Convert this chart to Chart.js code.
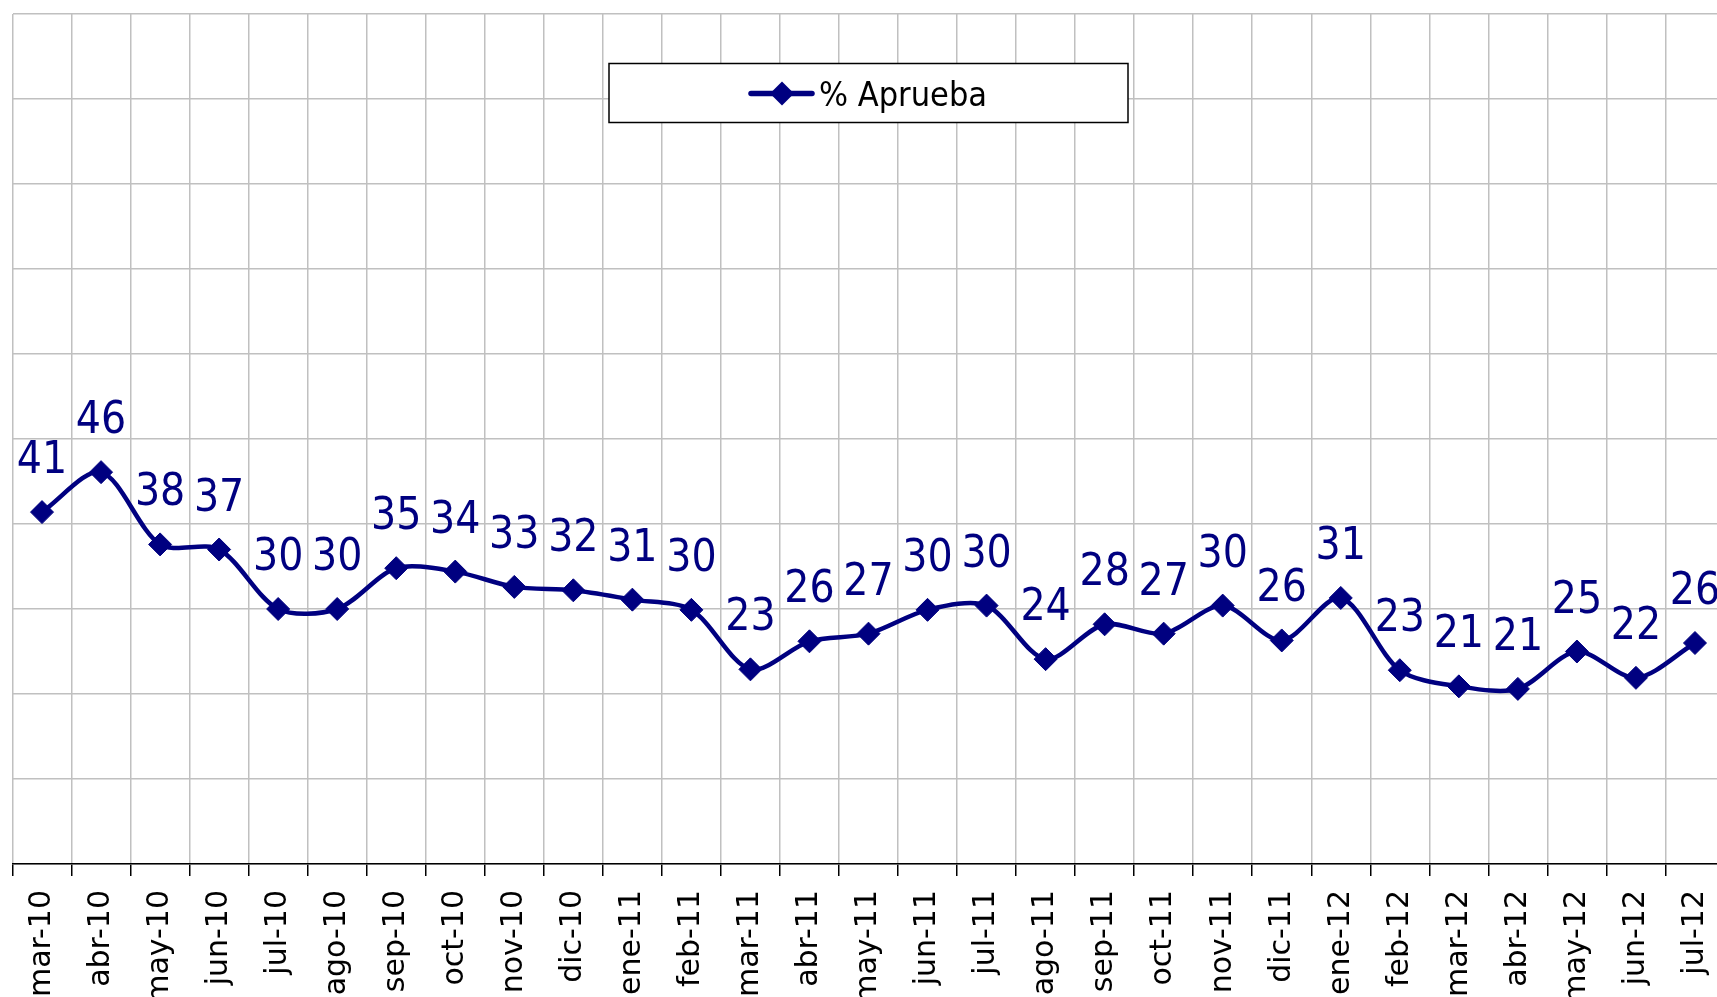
<!DOCTYPE html>
<html>
<head>
<meta charset="utf-8">
<script src="https://cdn.jsdelivr.net/npm/chart.js@4.4.1/dist/chart.umd.min.js"></script>
<style>
  html, body { margin:0; padding:0; background:#fff; overflow:hidden; }
  #wrap { position:relative; width:1717px; height:997px; overflow:hidden; }
  canvas { display:block; }
</style>
</head>
<body>
<div id="wrap"><canvas id="approvalChart" width="1737" height="997"></canvas></div>
<script>
const monthLabels = [
  "mar-10","abr-10","may-10","jun-10","jul-10","ago-10","sep-10","oct-10","nov-10","dic-10",
  "ene-11","feb-11","mar-11","abr-11","may-11","jun-11","jul-11","ago-11","sep-11","oct-11",
  "nov-11","dic-11","ene-12","feb-12","mar-12","abr-12","may-12","jun-12","jul-12"
];

const approvalValues = [
  41.4, 46.1, 37.6, 37.0, 30.0, 30.0, 34.8, 34.4, 32.6, 32.2,
  31.1, 29.9, 22.9, 26.2, 27.1, 29.9, 30.4, 24.1, 28.2, 27.1,
  30.4, 26.3, 31.3, 22.8, 20.9, 20.6, 25.0, 21.9, 26.0
];

const yTicks = { min:0, max:100, step:10 };

const NAVY = "#000080";
const FONT = '"DejaVu Sans Condensed", "DejaVu Sans", sans-serif';

// value labels above each point
const valueLabels = {
  id:"valueLabels",
  afterDatasetsDraw(chart){
    const ctx = chart.ctx;
    const meta = chart.getDatasetMeta(0);
    const data = chart.data.datasets[0].data;
    ctx.save();
    ctx.font = "44px " + FONT;
    ctx.fillStyle = NAVY;
    ctx.textAlign = "center";
    ctx.textBaseline = "alphabetic";
    meta.data.forEach((pt,i) => {
      ctx.fillText(String(Math.round(data[i])), pt.x, pt.y - 39);
    });
    ctx.restore();
  }
};

// boxed legend sitting inside the plot
const boxedLegend = {
  id:"boxedLegend",
  afterDraw(chart){
    const ctx = chart.ctx;
    const ds = chart.data.datasets[0];
    const box = { x:609, y:63.5, w:519, h:59 };
    ctx.save();
    ctx.fillStyle = "#fff";
    ctx.fillRect(box.x, box.y, box.w, box.h);
    ctx.lineWidth = 1.5;
    ctx.strokeStyle = "#000";
    ctx.strokeRect(box.x, box.y, box.w, box.h);

    const cy = 93.5;
    ctx.strokeStyle = ds.borderColor;
    ctx.lineWidth = 5.5;
    ctx.lineCap = "round";
    ctx.beginPath();
    ctx.moveTo(751, cy);
    ctx.lineTo(812, cy);
    ctx.stroke();
    ctx.fillStyle = ds.pointBackgroundColor;
    ctx.beginPath();
    ctx.moveTo(782, cy - 12);
    ctx.lineTo(794, cy);
    ctx.lineTo(782, cy + 12);
    ctx.lineTo(770, cy);
    ctx.closePath();
    ctx.fill();

    ctx.fillStyle = "#000";
    ctx.font = "34px " + FONT;
    ctx.textAlign = "left";
    ctx.textBaseline = "alphabetic";
    ctx.fillText(ds.label, 819, 106);
    ctx.restore();
  }
};

new Chart(document.getElementById("approvalChart"),{
  type:"line",
  data:{
    labels:monthLabels,
    datasets:[{
      label:"% Aprueba",
      data:approvalValues,
      borderColor:NAVY,
      backgroundColor:NAVY,
      borderWidth:4.5,
      tension:0.3,
      pointStyle:"rectRot",
      pointRadius:11.5,
      pointHoverRadius:11.5,
      pointBackgroundColor:NAVY,
      pointBorderColor:NAVY,
      pointBorderWidth:1,
      clip:false
    }]
  },
  options:{
    responsive:false,
    maintainAspectRatio:false,
    devicePixelRatio:1,
    animation:false,
    layout:{ padding:{ left:11, top:14, right:1, bottom:0 } },
    plugins:{
      legend:{ display:false },
      tooltip:{ enabled:false }
    },
    scales:{
      x:{
        offset:true,
        afterFit(scale){
          scale.height = 133;
          scale.paddingLeft = 0;
          scale.paddingRight = 0;
        },
        grid:{
          offset:true,
          color:"#c0c0c0",
          lineWidth:1.5,
          tickColor:"#000",
          tickLength:12,
          drawTicks:true
        },
        border:{ display:true, color:"#000", width:1.5 },
        ticks:{
          autoSkip:false,
          minRotation:90,
          maxRotation:90,
          padding:14,
          color:"#000",
          font:{ family:'"DejaVu Sans", sans-serif', size:30 }
        }
      },
      y:{
        min:yTicks.min,
        max:yTicks.max,
        afterFit(scale){ scale.width = 0; },
        ticks:{ display:false, stepSize:yTicks.step },
        grid:{ color:"#c0c0c0", lineWidth:1.5, drawTicks:false },
        border:{ display:false }
      }
    }
  },
  plugins:[valueLabels, boxedLegend]
});
</script>
</body>
</html>
